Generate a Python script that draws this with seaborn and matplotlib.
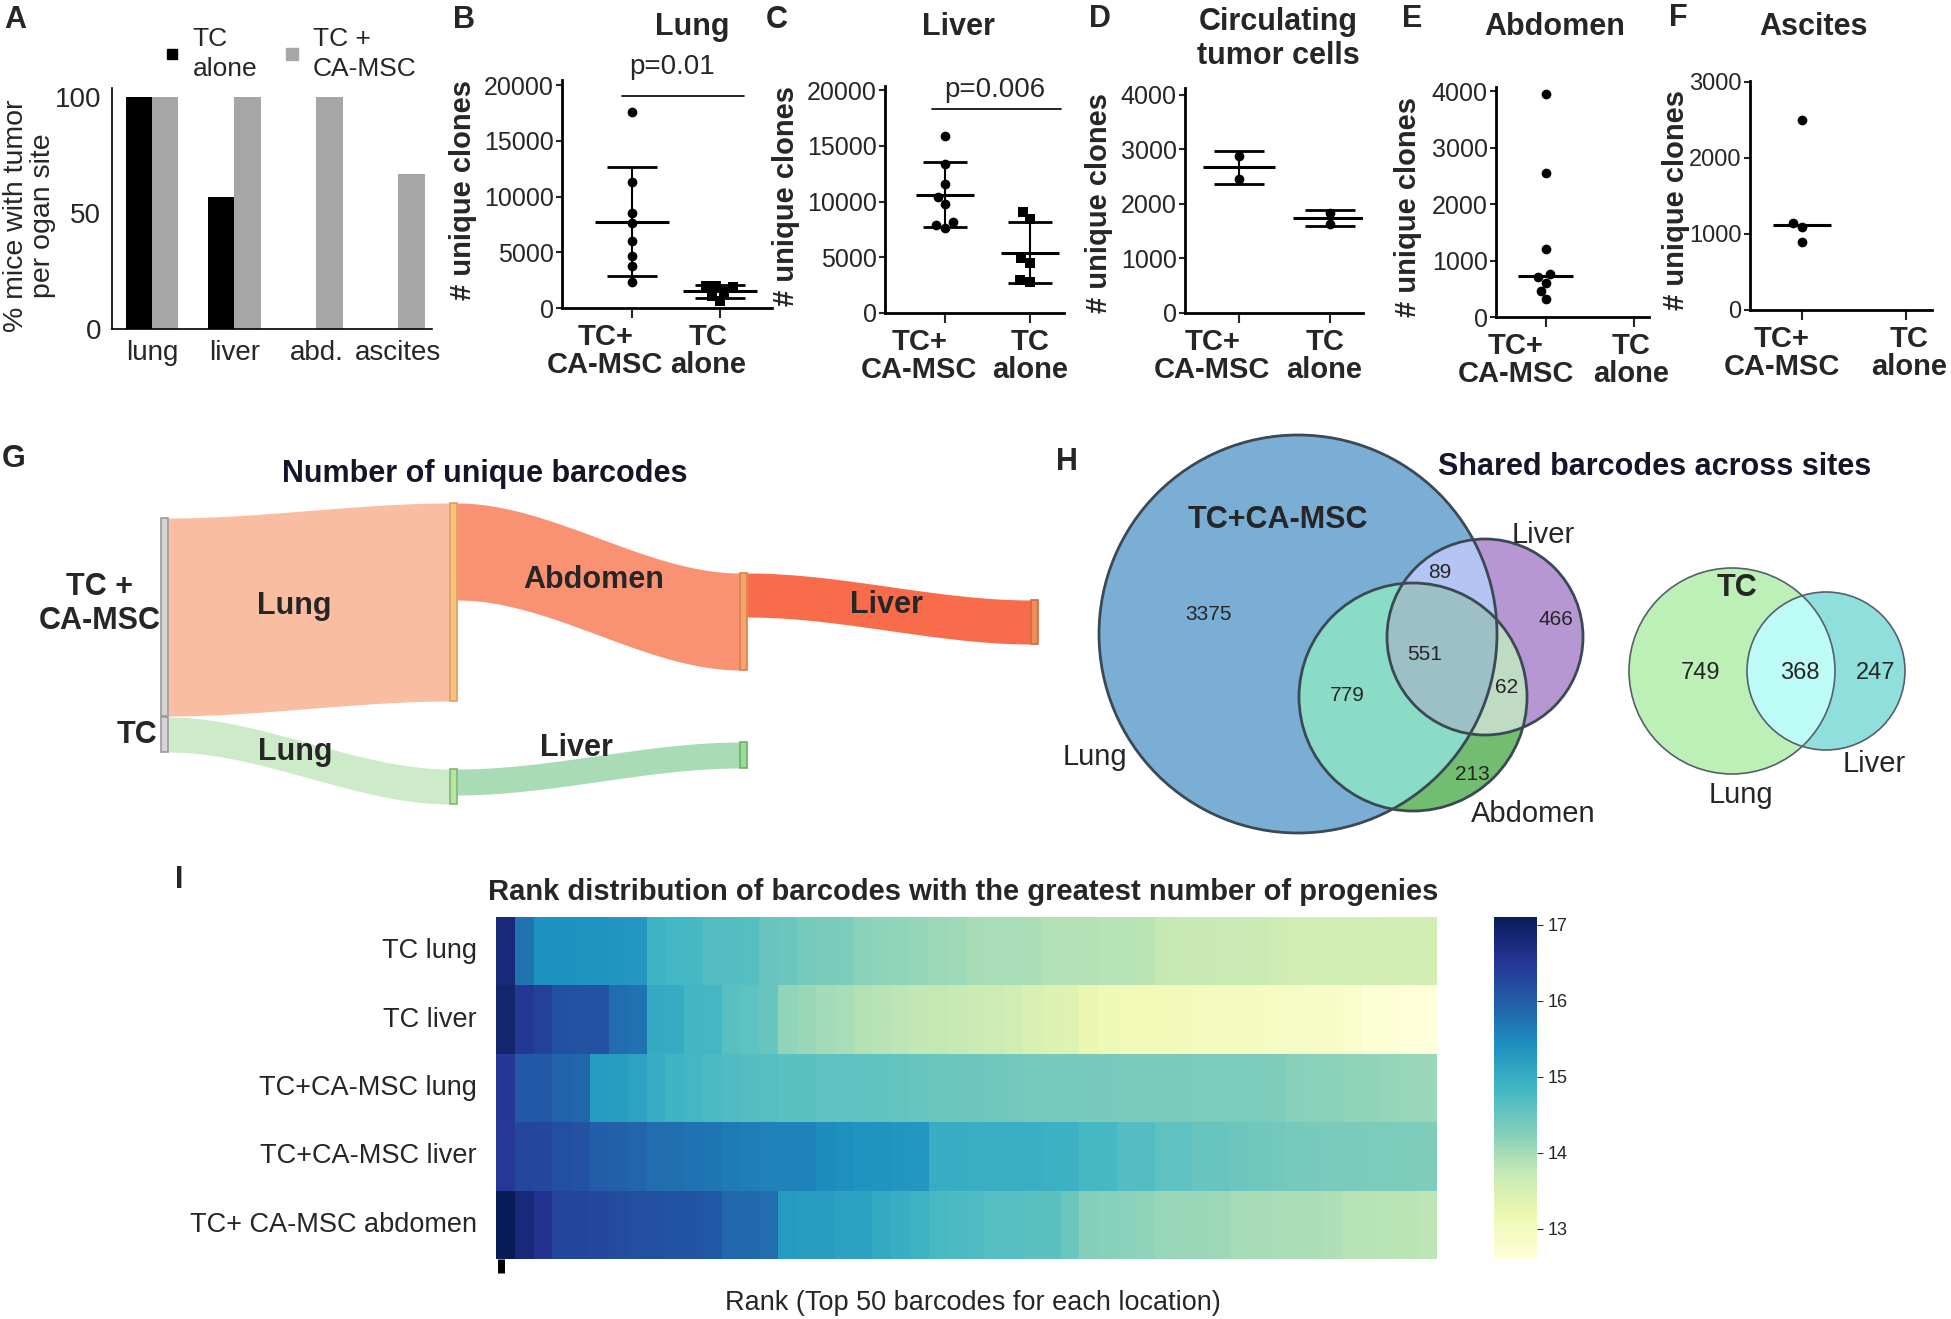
import matplotlib.pyplot as plt
import numpy as np
import pandas as pd
import seaborn as sns
from matplotlib.lines import Line2D
from matplotlib.patches import Circle, Polygon, Rectangle
from matplotlib.transforms import ScaledTranslation

sns.set_theme(style='white')
plt.rcParams['font.family'] = ['Liberation Sans', 'DejaVu Sans']

W, H = 1951, 1319

# ---------------- data ----------------
# A: % mice with tumor per organ site
sites = ['lung', 'liver', 'abd.', 'ascites']
pct_tc_alone = [100, 57, 0, 0]
pct_tc_camsc = [100, 100, 100, 67]

# B-F: number of unique clones per mouse
groups = ['TC+\nCA-MSC', 'TC\nalone']
lung_camsc = [17600, 11300, 8500, 7600, 6000, 4700, 3800, 2300]
lung_alone = [2000, 1950, 1850, 1400, 1100, 600]
liver_camsc = [15900, 13400, 11600, 10400, 9800, 8200, 7900, 7600]
liver_alone = [9050, 8450, 4900, 4450, 2950, 2750]
ctc_camsc = [2880, 2460]
ctc_alone = [1840, 1640]
abd_camsc = [3950, 2550, 1200, 760, 700, 600, 460, 310]
abd_alone = []
ascites_camsc = [2500, 1150, 1090, 890]
ascites_alone = []

# G: sankey of unique barcodes (flow widths)
link_src = ['TC + CA-MSC', 'TC', 'Lung', 'Abdomen', 'Lung (TC)']
link_dst = ['Lung', 'Lung (TC)', 'Abdomen', 'Liver', 'Liver (TC)']
link_val = [198, 35, 97, 44, 26]
link_col = ['#f9bda2', '#cdebc8', '#f99273', '#f86b4b', '#a9dcb5']

# H: shared barcodes
venn_camsc = {'Lung': 3375, 'Lung&Liver': 89, 'Liver': 466, 'Lung&Liver&Abdomen': 551,
              'Lung&Abdomen': 779, 'Liver&Abdomen': 62, 'Abdomen': 213}
venn_tc = {'Lung': 749, 'Lung&Liver': 368, 'Liver': 247}

# I: rank distribution heatmap
hm_rows = ['TC lung', 'TC liver', 'TC+CA-MSC lung', 'TC+CA-MSC liver', 'TC+ CA-MSC abdomen']
tc_lung = [16.8, 15.75, 15.4, 15.4, 15.38, 15.36, 15.34, 15.32, 14.9, 14.82,
           14.8, 14.7, 14.68, 14.66, 14.5, 14.48, 14.36, 14.34, 14.32, 14.2,
           14.18, 14.16, 14.12, 14.07, 14.05, 13.98, 13.97, 13.96, 13.95, 13.9,
           13.88, 13.88, 13.86, 13.85, 13.83, 13.73, 13.72, 13.72, 13.7, 13.7,
           13.68, 13.62, 13.6, 13.6, 13.59, 13.58, 13.57, 13.56, 13.55, 13.55]
tc_liver = [16.9, 16.5, 16.35, 16.15, 16.12, 16.12, 15.8, 15.75, 15.05, 15.02,
            14.85, 14.82, 14.63, 14.58, 14.5, 14.15, 14.08, 14.02, 13.97, 13.9,
            13.85, 13.8, 13.77, 13.75, 13.72, 13.66, 13.64, 13.6, 13.45, 13.42,
            13.38, 13.2, 13.1, 13.08, 13.07, 13.06, 13.05, 13.0, 12.98, 12.97,
            12.95, 12.92, 12.9, 12.88, 12.86, 12.8, 12.7, 12.66, 12.63, 12.6]
camsc_lung = [16.5, 16.05, 16.03, 15.92, 15.9, 15.27, 15.25, 15.15, 15.0, 14.9,
              14.82, 14.76, 14.72, 14.69, 14.66, 14.62, 14.62, 14.57, 14.57, 14.57,
              14.56, 14.55, 14.5, 14.47, 14.46, 14.45, 14.44, 14.4, 14.38, 14.37,
              14.36, 14.35, 14.35, 14.34, 14.34, 14.33, 14.33, 14.32, 14.32, 14.32,
              14.31, 14.3, 14.22, 14.2, 14.19, 14.18, 14.17, 14.12, 14.1, 14.08]
camsc_liver = [16.48, 16.28, 16.27, 16.17, 16.13, 15.98, 15.95, 15.87, 15.8, 15.77,
               15.73, 15.7, 15.65, 15.62, 15.58, 15.56, 15.56, 15.45, 15.42, 15.36,
               15.36, 15.34, 15.32, 15.0, 15.0, 14.97, 14.97, 14.97, 14.96, 14.93,
               14.93, 14.8, 14.8, 14.68, 14.68, 14.58, 14.58, 14.5, 14.5, 14.46,
               14.43, 14.4, 14.37, 14.35, 14.34, 14.33, 14.32, 14.31, 14.3, 14.3]
camsc_abd = [17.1, 16.8, 16.55, 16.3, 16.3, 16.27, 16.22, 16.17, 16.17, 16.1,
             16.1, 16.03, 15.86, 15.86, 15.8, 15.27, 15.24, 15.24, 15.17, 15.17,
             15.05, 14.98, 14.9, 14.78, 14.75, 14.72, 14.66, 14.64, 14.62, 14.6,
             14.48, 14.25, 14.22, 14.2, 14.18, 14.1, 14.09, 14.08, 14.06, 14.0,
             13.98, 13.96, 13.95, 13.94, 13.92, 13.86, 13.85, 13.84, 13.82, 13.8]

fig = plt.figure(figsize=(W / 100, H / 100), dpi=100)


def box(l, t, r, b):
    return [l / W, 1 - b / H, (r - l) / W, (b - t) / H]


def ftext(x, y, s, **kw):
    kw.setdefault('ha', 'center')
    kw.setdefault('va', 'center')
    fig.text(x / W, 1 - y / H, s, **kw)


# panel letters
for letter, x, y in [('A', 15, 20), ('B', 464, 20), ('C', 777, 20), ('D', 1100, 19),
                     ('E', 1412, 19), ('F', 1678, 18), ('G', 14, 459), ('H', 1067, 462),
                     ('I', 179, 880)]:
    ftext(x, y, letter, fontsize=22, fontweight='bold')

# ---------------- A ----------------
df_a = pd.DataFrame({'site': sites * 2, 'pct': pct_tc_alone + pct_tc_camsc,
                     'group': ['TC alone'] * 4 + ['TC + CA-MSC'] * 4})
ax_a = fig.add_axes(box(112, 88, 432, 329))
sns.barplot(data=df_a, x='site', y='pct', hue='group', palette=['black', '#a6a6a6'],
            width=0.64, saturation=1, linewidth=0, legend=False, ax=ax_a)
ax_a.set_xlim(-0.49, 3.41)
ax_a.set_ylim(0, 104)
ax_a.set_yticks([0, 50, 100])
ax_a.set_xlabel('')
ax_a.set_ylabel('')
sns.despine(ax=ax_a)
for sp in ['left', 'bottom']:
    ax_a.spines[sp].set_color('black')
    ax_a.spines[sp].set_linewidth(1.2)
ax_a.tick_params(labelsize=20, length=0, pad=8)
ftext(30, 216, '% mice with tumor\nper ogan site', rotation=90, fontsize=20.5, linespacing=1.05)
handles = [Line2D([], [], marker='s', ls='none', color='black', ms=7),
           Line2D([], [], marker='s', ls='none', color='#a6a6a6', ms=9)]
leg = ax_a.legend(handles, ['TC\nalone', 'TC +\nCA-MSC'], ncol=2, frameon=False, fontsize=19,
                  loc='lower left', bbox_to_anchor=(148 / W, 1 - 94 / H),
                  bbox_transform=fig.transFigure, handletextpad=0.4, columnspacing=0.9,
                  handlelength=0.8, borderpad=0)
for t in leg.get_texts():
    t.set_linespacing(1.3)


# ---------------- B-F ----------------
def dot_panel(rect, xlim, ylim, yticks, camsc, alone, center, halfw, cap, alone_marker,
              ytick_fs, label_dx=(-25, -5)):
    ax = fig.add_axes(box(*rect))
    df = pd.DataFrame({'group': [groups[0]] * len(camsc) + [groups[1]] * len(alone),
                       'clones': camsc + alone})
    for g, mk in zip(groups, ['o', alone_marker]):
        sub = df[df['group'] == g]
        if len(sub):
            sns.swarmplot(data=sub, x='group', y='clones', order=groups, marker=mk,
                          color='black', size=7, ax=ax)
    stats = df.groupby('group')['clones'].agg(['mean', 'std', 'median'])
    for i, g in enumerate(groups):
        if g not in stats.index:
            continue
        if center == 'mean':
            m = stats.loc[g, 'mean']
            ax.errorbar(i, m, yerr=stats.loc[g, 'std'], fmt='none', ecolor='black',
                        elinewidth=1.5, capsize=cap, capthick=2)
        else:
            m = stats.loc[g, 'median']
        ax.hlines(m, i - halfw, i + halfw, color='black', lw=2.2)
    ax.set_xlim(xlim)
    ax.set_ylim(ylim)
    ax.set_yticks(yticks)
    ax.set_xlabel('')
    ax.set_ylabel('')
    sns.despine(ax=ax)
    for sp in ['left', 'bottom']:
        ax.spines[sp].set_color('black')
        ax.spines[sp].set_linewidth(2)
    ax.tick_params(axis='y', left=True, length=4, width=1.5, labelsize=ytick_fs, pad=2)
    ax.tick_params(axis='x', bottom=True, length=7, width=1.5, labelsize=21, pad=4)
    for lab, dx in zip(ax.get_xticklabels(), label_dx):
        lab.set_fontweight('bold')
        lab.set_linespacing(1.0)
        lab.set_transform(lab.get_transform() + ScaledTranslation(dx / 100, 0, fig.dpi_scale_trans))
    return ax


ax_b = dot_panel((562, 80, 772, 308), (-0.8, 1.59), (0, 20450), range(0, 20001, 5000),
                 lung_camsc, lung_alone, 'mean', 0.42, 18, 's', 18, (-27, -12))
ax_b.plot([-0.12, 1.27], [19000, 19000], color='black', lw=1.2, clip_on=False)
ftext(692, 27, 'Lung', fontsize=22, fontweight='bold')
ftext(672, 67, 'p=0.01', fontsize=20)
ftext(463, 190, '# unique clones', rotation=90, fontsize=21, fontweight='bold')

ax_c = dot_panel((885, 86, 1064, 313), (-0.71, 1.40), (0, 20360), range(0, 20001, 5000),
                 liver_camsc, liver_alone, 'mean', 0.34, 16, 's', 18, (-26, 0))
ax_c.plot([-0.16, 1.36], [18300, 18300], color='black', lw=1.2, clip_on=False)
ftext(958, 27, 'Liver', fontsize=22, fontweight='bold')
ftext(995, 90, 'p=0.006', fontsize=20)
ftext(786, 196, '# unique clones', rotation=90, fontsize=21, fontweight='bold')

dot_panel((1185, 88, 1363, 313), (-0.6, 1.37), (0, 4128), range(0, 4001, 1000),
          ctc_camsc, ctc_alone, 'mean', 0.4, 18, 'o', 18, (-27, -5))
ftext(1278, 39, 'Circulating\ntumor cells', fontsize=22, fontweight='bold', linespacing=1.15)
ftext(1099, 203, '# unique clones', rotation=90, fontsize=21, fontweight='bold')

dot_panel((1496, 87, 1649, 317), (-0.56, 1.17), (0, 4071), range(0, 4001, 1000),
          abd_camsc, abd_alone, 'median', 0.31, 0, 'o', 18, (-30, -3))
ftext(1555, 27, 'Abdomen', fontsize=22, fontweight='bold')
ftext(1408, 207, '# unique clones', rotation=90, fontsize=21, fontweight='bold')

dot_panel((1750, 81, 1932, 310), (-0.5, 1.25), (0, 3013), range(0, 3001, 1000),
          ascites_camsc, ascites_alone, 'median', 0.28, 0, 'o', 17, (-20, 3))
ftext(1813, 27, 'Ascites', fontsize=22, fontweight='bold')
ftext(1676, 200, '# unique clones', rotation=90, fontsize=21, fontweight='bold')

# ---------------- G: sankey ----------------
ax_g = fig.add_axes(box(0, 423, 1045, 835))
ax_g.set_xlim(0, 1045)
ax_g.set_ylim(835, 423)
ax_g.axis('off')
node_x = {'TC + CA-MSC': 161, 'TC': 161, 'Lung': 450, 'Abdomen': 740, 'Liver': 1031,
          'Lung (TC)': 450, 'Liver (TC)': 740}
node_top = {'TC + CA-MSC': 518, 'TC': 717, 'Lung': 503, 'Abdomen': 573, 'Liver': 600,
            'Lung (TC)': 769, 'Liver (TC)': 742}
node_col = {'TC + CA-MSC': ('#d4d4d4', '#9a9a9a'), 'TC': ('#d4d4d4', '#9a9a9a'),
            'Lung': ('#f8c37e', '#d9a060'), 'Abdomen': ('#f6a36c', '#d98050'),
            'Liver': ('#f08a56', '#d06a40'), 'Lung (TC)': ('#b7e3a4', '#7fb870'),
            'Liver (TC)': ('#9edb96', '#6fb068')}
node_w = 7
out_off = {k: 0 for k in node_x}
in_off = {k: 0 for k in node_x}
for s, d, v, c in zip(link_src, link_dst, link_val, link_col):
    x0, x1 = node_x[s] + node_w, node_x[d]
    y0, y1 = node_top[s] + out_off[s], node_top[d] + in_off[d]
    out_off[s] += v
    in_off[d] += v
    xs = np.linspace(x0, x1, 120)
    t = (xs - x0) / (x1 - x0)
    top = y0 + (y1 - y0) * t * t * (3 - 2 * t)
    ax_g.fill_between(xs, top, top + v, color=c, lw=0, zorder=1)
for k in node_x:
    hgt = max(out_off[k], in_off[k])
    fc, ec = node_col[k]
    ax_g.add_patch(Rectangle((node_x[k], node_top[k]), node_w, hgt, facecolor=fc,
                             edgecolor=ec, lw=1.2, zorder=2))
ax_g.text(485, 474, 'Number of unique barcodes', fontsize=22, fontweight='bold',
          color='#15152a', ha='center', va='center')
ax_g.text(100, 604, 'TC +\nCA-MSC', fontsize=22, fontweight='bold', ha='center', va='center',
          linespacing=1.2)
ax_g.text(137, 735, 'TC', fontsize=22, fontweight='bold', ha='center', va='center')
for s, x, y in [('Lung', 294, 606), ('Abdomen', 594, 580), ('Liver', 886, 605),
                ('Lung', 295, 752), ('Liver', 576, 748)]:
    ax_g.text(x, y, s, fontsize=22, fontweight='bold', ha='center', va='center', zorder=3)

# ---------------- H: venn ----------------
ax_h = fig.add_axes(box(1045, 423, 1951, 840))
ax_h.set_xlim(1045, 1951)
ax_h.set_ylim(840, 423)
ax_h.axis('off')


def circ_poly(c, n=240):
    a = np.linspace(0, 2 * np.pi, n, endpoint=False)
    return np.column_stack([c[0] + c[2] * np.cos(a), c[1] + c[2] * np.sin(a)])


def clip(subject, c):
    clipper = circ_poly(c, 120)

    def inside(p, a, b):
        return (b[0] - a[0]) * (p[1] - a[1]) - (b[1] - a[1]) * (p[0] - a[0]) >= 0

    def cross_pt(p, q, a, b):
        d1, d2 = q - p, b - a
        t = ((a[0] - p[0]) * d2[1] - (a[1] - p[1]) * d2[0]) / (d1[0] * d2[1] - d1[1] * d2[0])
        return p + t * d1

    out = list(subject)
    for i in range(len(clipper)):
        a, b = clipper[i - 1], clipper[i]
        inp, out = out, []
        for j in range(len(inp)):
            p, q = inp[j - 1], inp[j]
            if inside(q, a, b):
                if not inside(p, a, b):
                    out.append(cross_pt(p, q, a, b))
                out.append(q)
            elif inside(p, a, b):
                out.append(cross_pt(p, q, a, b))
        if not out:
            break
    return np.array(out)


def fill(poly, color):
    ax_h.add_patch(Polygon(poly, closed=True, facecolor=color, edgecolor='none', zorder=1))


big = {'Lung': (1298, 634, 199), 'Liver': (1485, 637, 98), 'Abdomen': (1413, 697, 114)}
fill(circ_poly(big['Lung']), '#7aaed4')
fill(circ_poly(big['Liver']), '#b697d4')
fill(circ_poly(big['Abdomen']), '#72bd6f')
fill(clip(circ_poly(big['Liver']), big['Lung']), '#b4c5f4')
fill(clip(circ_poly(big['Abdomen']), big['Lung']), '#8adcc6')
fill(clip(circ_poly(big['Abdomen']), big['Liver']), '#c0dbc3')
fill(clip(clip(circ_poly(big['Abdomen']), big['Liver']), big['Lung']), '#9dbfc6')
for c in big.values():
    ax_h.add_patch(Circle(c[:2], c[2], facecolor='none', edgecolor='#3b4954', lw=2, zorder=2))

small = {'Lung': (1732, 671, 103), 'Liver': (1826, 671, 79)}
fill(circ_poly(small['Lung']), '#bdf0b6')
fill(circ_poly(small['Liver']), '#8fe0dc')
fill(clip(circ_poly(small['Liver']), small['Lung']), '#bdfcf6')
for c in small.values():
    ax_h.add_patch(Circle(c[:2], c[2], facecolor='none', edgecolor='#55606a', lw=1.2, zorder=2))

big_pos = {'Lung': (1209, 615), 'Lung&Liver': (1440, 573), 'Liver': (1556, 620),
           'Lung&Liver&Abdomen': (1425, 655), 'Lung&Abdomen': (1347, 696),
           'Liver&Abdomen': (1507, 688), 'Abdomen': (1472, 775)}
for k, v in venn_camsc.items():
    ax_h.text(*big_pos[k], str(v), fontsize=15, ha='center', va='center', zorder=3)
small_pos = {'Lung': (1700, 673), 'Lung&Liver': (1800, 673), 'Liver': (1876, 673)}
for k, v in venn_tc.items():
    ax_h.text(*small_pos[k], str(v), fontsize=17, ha='center', va='center', zorder=3)
ax_h.text(1655, 467, 'Shared barcodes across sites', fontsize=22, fontweight='bold',
          color='#15152a', ha='center', va='center')
ax_h.text(1278, 520, 'TC+CA-MSC', fontsize=22, fontweight='bold', ha='center', va='center', zorder=3)
ax_h.text(1737, 588, 'TC', fontsize=22, fontweight='bold', ha='center', va='center', zorder=3)
for s, x, y in [('Liver', 1543, 535), ('Lung', 1095, 757), ('Abdomen', 1533, 814),
                ('Lung', 1741, 795), ('Liver', 1874, 764)]:
    ax_h.text(x, y, s, fontsize=21, ha='center', va='center', zorder=3)

# ---------------- I: heatmap ----------------
hm = pd.DataFrame([tc_lung, tc_liver, camsc_lung, camsc_liver, camsc_abd], index=hm_rows)
ax_i = fig.add_axes(box(496, 917, 1437, 1259))
cax = fig.add_axes(box(1494, 917, 1537, 1259))
sns.heatmap(hm, cmap='YlGnBu', ax=ax_i, cbar_ax=cax, xticklabels=False, yticklabels=True)
ax_i.set_xticks([0.25])
ax_i.set_xticklabels([''])
ax_i.tick_params(axis='x', bottom=True, length=10, width=5, color='black')
ax_i.tick_params(axis='y', length=0, labelsize=19.5, pad=14)
ax_i.set_yticklabels(hm_rows, rotation=0)
cbar = ax_i.collections[0].colorbar
cbar.set_ticks([13, 14, 15, 16, 17])
cbar.outline.set_visible(False)
cax.tick_params(labelsize=13, length=4, width=0.8, right=True, color='#333333')
ftext(963, 892, 'Rank distribution of barcodes with the greatest number of progenies',
      fontsize=21, fontweight='bold')
ftext(973, 1303, 'Rank (Top 50 barcodes for each location)', fontsize=19.5)

plt.savefig('out.png', dpi=100)
